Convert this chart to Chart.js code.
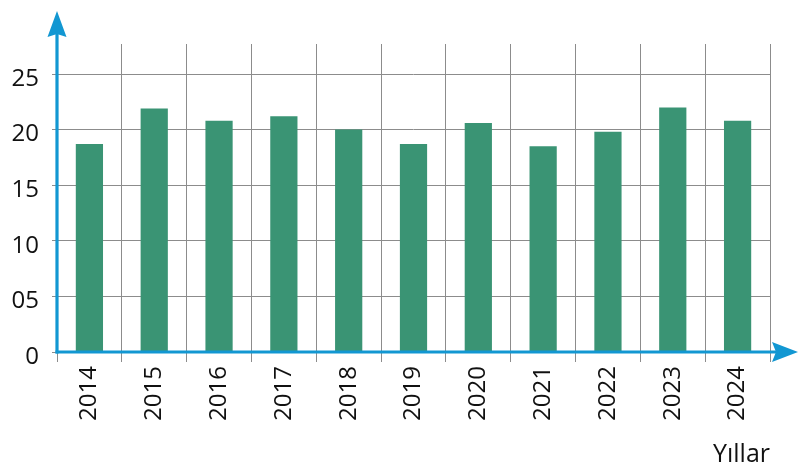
<!DOCTYPE html>
<html>
<head>
<meta charset="utf-8">
<script src="https://cdn.jsdelivr.net/npm/chart.js@4.4.1/dist/chart.umd.min.js"></script>
<style>
  html, body { margin: 0; padding: 0; background: #ffffff; }
  #wrap { width: 800px; height: 476px; position: relative; }
</style>
</head>
<body>
<div id="wrap"><canvas id="c" width="800" height="476"></canvas></div>
<script>
// ---- data ----
const years = ['2014', '2015', '2016', '2017', '2018', '2019', '2020', '2021', '2022', '2023', '2024'];
const values = [18.7, 21.9, 20.8, 21.2, 20.0, 18.7, 20.6, 18.5, 19.8, 22.0, 20.8];
const yTickValues = [0, 5, 10, 15, 20, 25];
const yTickLabels = ['0', '05', '10', '15', '20', '25'];
const xAxisTitle = 'Yıllar';

const AXIS_BLUE = '#1297d2';
const BAR_GREEN = '#3a9474';
const GRID_GRAY = '#8c8c8c';
const FONT = '"Open Sans", "Noto Sans", sans-serif';

const axesArrows = {
  id: 'axesArrows',
  afterDraw(chart) {
    const ctx = chart.ctx;
    const area = chart.chartArea;
    const y0 = chart.scales.y.getPixelForValue(0);
    const x0 = area.left;
    ctx.save();
    ctx.strokeStyle = AXIS_BLUE;
    ctx.fillStyle = AXIS_BLUE;
    ctx.lineWidth = 3.2;
    // y axis line
    ctx.beginPath();
    ctx.moveTo(x0, y0 + 1.5);
    ctx.lineTo(x0, 30);
    ctx.stroke();
    // y arrow head
    ctx.beginPath();
    ctx.moveTo(x0, 11);
    ctx.lineTo(x0 - 9.5, 37);
    ctx.lineTo(x0, 34);
    ctx.lineTo(x0 + 9.5, 37);
    ctx.closePath();
    ctx.fill();
    // x axis line
    ctx.beginPath();
    ctx.moveTo(x0 - 1.5, y0);
    ctx.lineTo(785, y0);
    ctx.stroke();
    // x arrow head
    ctx.beginPath();
    ctx.moveTo(798, y0);
    ctx.lineTo(772, y0 - 10);
    ctx.lineTo(776, y0);
    ctx.lineTo(772, y0 + 10);
    ctx.closePath();
    ctx.fill();
    ctx.restore();
  }
};

new Chart(document.getElementById('c'), {
  type: 'bar',
  data: {
    labels: years,
    datasets: [{
      data: values,
      backgroundColor: BAR_GREEN,
      borderWidth: 0,
      categoryPercentage: 1.0,
      barPercentage: 0.42
    }]
  },
  options: {
    responsive: false,
    animation: false,
    devicePixelRatio: 1,
    layout: { padding: { top: 44, right: 30, left: 0, bottom: 0 } },
    plugins: { legend: { display: false }, tooltip: { enabled: false } },
    scales: {
      x: {
        offset: true,
        border: { display: false },
        grid: {
          offset: true,
          color: GRID_GRAY,
          lineWidth: 1,
          tickLength: 10,
          drawTicks: true
        },
        ticks: {
          minRotation: 90,
          maxRotation: 90,
          padding: 4,
          color: '#111',
          font: { family: FONT, size: 24 }
        },
        title: {
          display: true,
          text: xAxisTitle,
          align: 'end',
          color: '#111',
          font: { family: FONT, size: 25 },
          padding: { top: 0, bottom: 6 }
        },
        afterFit(scale) { scale.height = 124; }
      },
      y: {
        min: 0,
        max: 27.7,
        border: { display: false },
        grid: {
          color: GRID_GRAY,
          lineWidth: 1,
          tickLength: 5
        },
        afterBuildTicks(scale) {
          scale.ticks = yTickValues.map(v => ({ value: v }));
        },
        ticks: {
          padding: 13,
          labelOffset: 5,
          color: '#111',
          font: { family: FONT, size: 24 },
          callback(value) {
            const i = yTickValues.indexOf(value);
            return i >= 0 ? yTickLabels[i] : '';
          }
        },
        afterFit(scale) { scale.width = 57; }
      }
    }
  },
  plugins: [axesArrows]
});
</script>
</body>
</html>
